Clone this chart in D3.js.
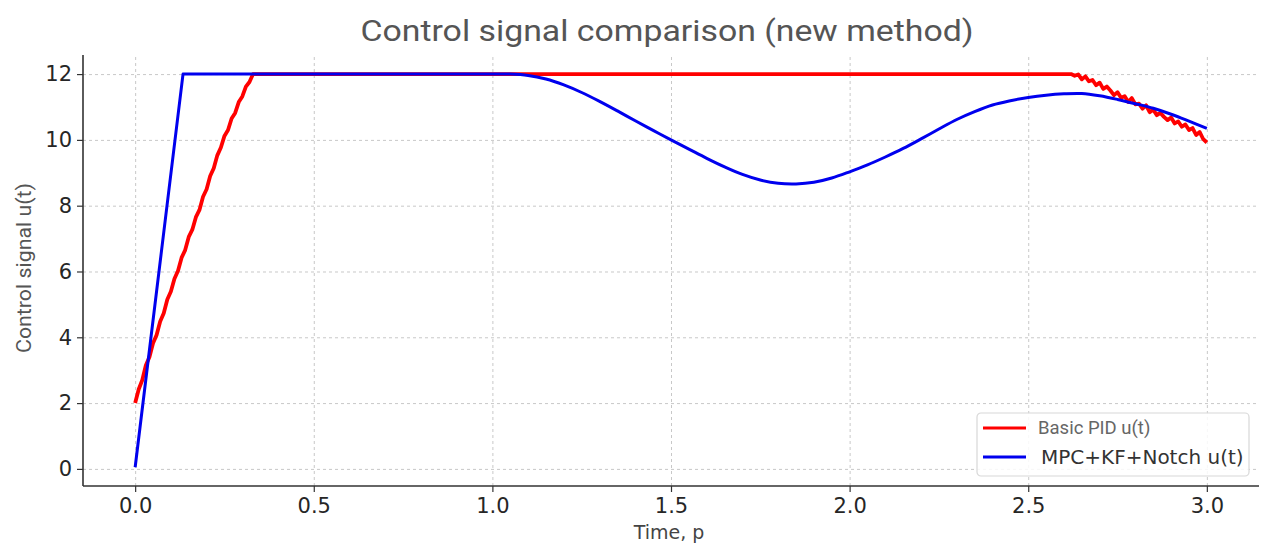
<!DOCTYPE html>
<html>
<head>
<meta charset="utf-8">
<script src="https://cdn.jsdelivr.net/npm/d3@7"></script>
<style>
  body { margin: 0; background: #fff; }
  .grid line { stroke: #c8c8c8; stroke-dasharray: 3,3; }
  .grid path { display: none; }
  .tickLabel { font-family: 'DejaVu Sans', sans-serif; font-size: 21px; fill: #262626; }
</style>
</head>
<body>
<svg id="chart"></svg>
<script>
// x ticks and y ticks
const xTicks = [0.0, 0.5, 1.0, 1.5, 2.0, 2.5, 3.0]
const yTicks = [0, 2, 4, 6, 8, 10, 12]

// Basic PID u(t): jittery ramp, saturation at 12, noisy fall
const pidT = [0.00, 0.01, 0.02, 0.03, 0.04, 0.05, 0.06, 0.07, 0.08, 0.09, 0.10, 0.11, 0.12, 0.13, 0.14, 0.15, 0.16,
  0.17, 0.18, 0.19, 0.20, 0.21, 0.22, 0.23, 0.24, 0.25, 0.26, 0.27, 0.28, 0.29, 0.30, 0.31, 0.32, 0.33,
  2.62, 2.63, 2.64, 2.65, 2.66, 2.67, 2.68, 2.69, 2.70, 2.71, 2.72, 2.73, 2.74, 2.75, 2.76, 2.77, 2.78, 2.79, 2.80,
  2.81, 2.82, 2.83, 2.84, 2.85, 2.86, 2.87, 2.88, 2.89, 2.90, 2.91, 2.92, 2.93, 2.94, 2.95, 2.96, 2.97, 2.98, 2.99, 3.00]
const pidU = [2.00, 2.42, 2.70, 3.15, 3.40, 3.82, 4.07, 4.48, 4.73, 5.15, 5.39, 5.78, 6.02, 6.42, 6.65, 7.05, 7.27,
  7.65, 7.87, 8.27, 8.50, 8.90, 9.14, 9.53, 9.77, 10.12, 10.30, 10.65, 10.82, 11.15, 11.32, 11.62, 11.76, 12.00,
  12.00, 11.95, 11.99, 11.84, 11.93, 11.78, 11.82, 11.66, 11.74, 11.55, 11.62, 11.50, 11.36, 11.45, 11.28, 11.33, 11.15, 11.27, 11.08,
  11.10, 10.95, 11.05, 10.84, 10.92, 10.75, 10.82, 10.70, 10.60, 10.68, 10.50, 10.56, 10.40, 10.47, 10.30, 10.36, 10.15, 10.24, 10.02, 9.92]

// MPC+KF+Notch u(t): linear ramp, saturation, then smooth dip
const mpcRampT = [0.00, 0.134, 1.00]
const mpcRampU = [0.05, 12.00, 12.00]
const mpcT = [1.00, 1.05, 1.10, 1.15, 1.20, 1.25, 1.30, 1.35, 1.40, 1.45, 1.50, 1.55, 1.60, 1.65, 1.70, 1.75, 1.80, 1.85,
  1.90, 1.95, 2.00, 2.05, 2.10, 2.15, 2.20, 2.25, 2.30, 2.35, 2.40, 2.45, 2.50, 2.55, 2.60, 2.65, 2.70, 2.75, 2.80,
  2.85, 2.90, 2.95, 3.00]
const mpcU = [12.00, 12.00, 11.96, 11.85, 11.67, 11.44, 11.17, 10.88, 10.58, 10.29, 10.00, 9.72, 9.44, 9.18, 8.95, 8.78, 8.68, 8.66,
  8.71, 8.84, 9.03, 9.24, 9.48, 9.74, 10.03, 10.33, 10.62, 10.86, 11.06, 11.19, 11.29, 11.36, 11.40, 11.41, 11.34, 11.23, 11.10,
  10.96, 10.78, 10.57, 10.35]

const legendNames = ['Basic PID u(t)', 'MPC+KF+Notch u(t)']

let margin = {top: 55, right: 8, bottom: 59, left: 83},
    width = 1267 - margin.left - margin.right,
    height = 545 - margin.top - margin.bottom

const svg = d3.select('#chart')
    .attr('width', 1267)
    .attr('height', 545)

const chart = svg.append('g')
    .attr('transform', `translate(${margin.left}, ${margin.top})`)

const xScale = d3.scaleLinear().domain([-0.146, 3.146]).range([0, width])
const yScale = d3.scaleLinear().domain([-0.52, 12.58]).range([height, 0])

// grid
chart.append('g')
  .attr('class', 'grid')
  .attr('transform', `translate(0, ${height})`)
  .call(d3.axisBottom(xScale).tickValues(xTicks).tickSize(-height).tickFormat(''))

chart.append('g')
  .attr('class', 'grid')
  .call(d3.axisLeft(yScale).tickValues(yTicks).tickSize(-width).tickFormat(''))

// axes (left and bottom spines only)
const xAxis = chart.append('g')
  .attr('transform', `translate(0, ${height})`)
  .call(d3.axisBottom(xScale).tickValues(xTicks).tickSize(6).tickPadding(6).tickFormat(d3.format('.1f')))
const yAxis = chart.append('g')
  .call(d3.axisLeft(yScale).tickValues(yTicks).tickSize(6).tickPadding(5).tickFormat(d3.format('d')))

for (const ax of [xAxis, yAxis]) {
  ax.select('.domain').attr('stroke', '#333').attr('stroke-width', 1.6)
  ax.selectAll('.tick line').attr('stroke', '#333').attr('stroke-width', 1.2)
  ax.selectAll('.tick text').attr('class', 'tickLabel').attr('fill', null)
  ax.attr('font-size', null).attr('font-family', null)
}
xAxis.select('.domain').attr('d', `M0,0H${width}`)
yAxis.select('.domain').attr('d', `M0,0V${height}`)

// lines
const line = d3.line().x(d => xScale(d[0])).y(d => yScale(d[1]))
const smooth = d3.line().x(d => xScale(d[0])).y(d => yScale(d[1])).curve(d3.curveCatmullRom)

const pidData = pidT.map((t, i) => [t, pidU[i]])
chart.append('path')
  .attr('d', line(pidData))
  .attr('fill', 'none')
  .attr('stroke', '#f00')
  .attr('stroke-width', 3.8)
  .attr('stroke-linejoin', 'round')

const mpcRamp = mpcRampT.map((t, i) => [t, mpcRampU[i]])
const mpcData = mpcT.map((t, i) => [t, mpcU[i]])
chart.append('path')
  .attr('d', line(mpcRamp) + smooth(mpcData))
  .attr('fill', 'none')
  .attr('stroke', '#0000ee')
  .attr('stroke-width', 3)
  .attr('stroke-linejoin', 'round')

// title and labels
svg.append('text')
  .attr('x', 667)
  .attr('y', 41)
  .attr('text-anchor', 'middle')
  .attr('textLength', 613)
  .attr('lengthAdjust', 'spacingAndGlyphs')
  .style('font-family', 'Roboto, sans-serif')
  .style('font-size', '30px')
  .style('fill', '#555')
  .text('Control signal comparison (new method)')

svg.append('text')
  .attr('transform', 'translate(31, 268) rotate(-90)')
  .attr('text-anchor', 'middle')
  .attr('textLength', 170)
  .attr('lengthAdjust', 'spacingAndGlyphs')
  .style('font-family', 'Roboto, sans-serif')
  .style('font-size', '21px')
  .style('fill', '#555')
  .text('Control signal u(t)')

svg.append('text')
  .attr('x', 669)
  .attr('y', 539)
  .attr('text-anchor', 'middle')
  .style('font-family', "'DejaVu Sans', sans-serif")
  .style('font-size', '19px')
  .style('fill', '#444')
  .text('Time, p')

// legend
const legend = svg.append('g').attr('transform', 'translate(977, 413)')
legend.append('rect')
  .attr('width', 272).attr('height', 63)
  .attr('rx', 4)
  .attr('fill', 'rgba(255,255,255,0.85)')
  .attr('stroke', '#d8d8d8')
  .attr('stroke-width', 1.2)

const legendColors = ['#f00', '#0000ee']
const legendFonts = [
  {family: 'Roboto, sans-serif', size: '18.5px', fill: '#666', x: 61},
  {family: "'DejaVu Sans', sans-serif", size: '20px', fill: '#333', x: 64}
]
legendNames.forEach((name, i) => {
  const yy = 15 + i * 29
  legend.append('line')
    .attr('x1', 6).attr('x2', 49).attr('y1', yy).attr('y2', yy)
    .attr('stroke', legendColors[i]).attr('stroke-width', 3.2)
  legend.append('text')
    .attr('x', legendFonts[i].x).attr('y', yy)
    .attr('dy', '0.35em')
    .style('font-family', legendFonts[i].family)
    .style('font-size', legendFonts[i].size)
    .style('fill', legendFonts[i].fill)
    .text(name)
})
</script>
</body>
</html>
